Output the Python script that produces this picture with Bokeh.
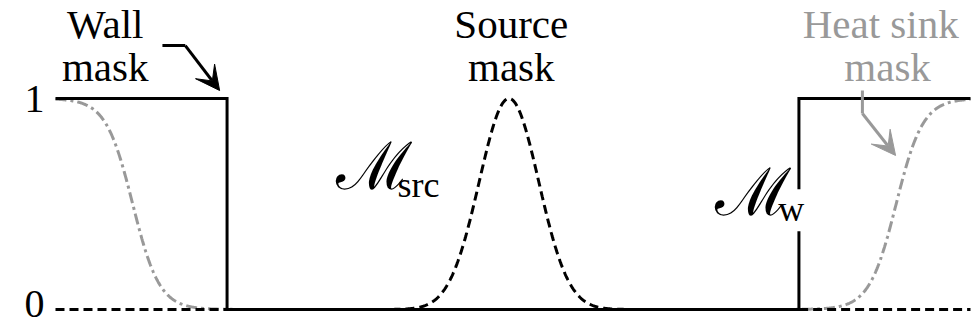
import numpy as np
from bokeh.plotting import figure
from bokeh.models import Range1d, Label, Arrow, VeeHead, ColumnDataSource
from bokeh.embed import file_html
from bokeh.resources import INLINE

# Domain and mask parameters
domain = [0.0, 16.0]
wall_x = [0.0, 3.0, 3.0, 13.0, 13.0, 16.0]     # wall mask: 1 outside [3, 13]
wall_y = [1.0, 1.0, 0.0, 0.0, 1.0, 1.0]
source_center = 7.93
source_width = 0.52
sink_edges = [1.35, 14.70]
sink_width = 0.47
y_ticks = [0, 1]
y_tick_labels = ["0", "1"]

SERIF = "Liberation Serif"
GRAY = "#999999"

x = np.linspace(domain[0], domain[1], 1601)
source = np.exp(-0.5 * ((x - source_center) / source_width) ** 2)
sink = 0.5 * (1 - np.tanh((x - sink_edges[0]) / sink_width)) + \
       0.5 * (1 + np.tanh((x - sink_edges[1]) / sink_width))

# The frame fills the whole canvas; the tick labels sit left of x = 0.
p = figure(width=978, height=327, x_range=Range1d(-0.9617, 16.140),
           y_range=Range1d(-0.0853, 1.4645),
           output_backend="svg", toolbar_location=None,
           x_axis_location=None, y_axis_location=None,
           min_border_left=0, min_border_right=0,
           min_border_top=0, min_border_bottom=0)
p.grid.visible = False
p.outline_line_color = None

# y tick labels
ticks = ColumnDataSource(dict(x=[domain[0]] * len(y_ticks), y=y_ticks,
                              text=y_tick_labels, dy=[-6, 0]))
p.text(x="x", y="y", text="text", source=ticks, x_offset=-11, y_offset="dy",
       text_align="right", text_baseline="alphabetic", text_font_size="40px",
       text_font={"value": SERIF}, text_color="black")

# Heat sink mask (grey dash-dot), source mask (dashed), wall mask (solid)
p.line(x, sink, line_color=GRAY, line_width=3, line_dash="11 4 3 4")
p.line(x, source, line_color="black", line_width=3, line_dash="9 5")
p.line(wall_x, wall_y, line_color="black", line_width=3, line_join="miter")

def label(xv, yv, text, size, color="black", align="center", font=SERIF, **kw):
    lab = Label(x=xv, y=yv, text=text, text_font=font, text_font_size=size,
                text_color=color, text_align=align, text_baseline="alphabetic", **kw)
    p.add_layout(lab)
    return lab

label(0.87, 1.355, "Wall", "41px")
label(0.87, 1.149, "mask", "41px")
label(7.97, 1.355, "Source", "41px")
label(7.97, 1.149, "mask", "41px")
label(14.43, 1.355, "Heat sink", "41px", color=GRAY)
label(14.55, 1.149, "mask", "41px", color=GRAY)

# Math labels: script M with subscripts
label(4.90, 0.680, "\u2133", "66px", align="left", font="DejaVu Serif")
label(5.98, 0.592, "src", "36px", align="left")
label(12.64, 0.470, "w", "36px", align="left",
      background_fill_color="white",
      padding=dict(left=0, right=4, top=0, bottom=2))
label(11.54, 0.555, "\u2133", "66px", align="left", font="DejaVu Serif")

# Bent arrows pointing at the masks
p.line([1.87, 2.27], [1.251, 1.251], line_color="black", line_width=3)
p.add_layout(Arrow(x_start=2.27, y_start=1.251, x_end=2.87, y_end=1.038,
                   line_color="black", line_width=3,
                   end=VeeHead(size=24, fill_color="black", line_color="black", line_width=1)))
p.line([14.11, 14.11], [1.038, 0.929], line_color=GRAY, line_width=3)
p.add_layout(Arrow(x_start=14.11, y_start=0.929, x_end=14.69, y_end=0.730,
                   line_color=GRAY, line_width=3,
                   end=VeeHead(size=24, fill_color=GRAY, line_color=GRAY, line_width=1)))

open("out.html", "w").write(file_html(p, INLINE))
